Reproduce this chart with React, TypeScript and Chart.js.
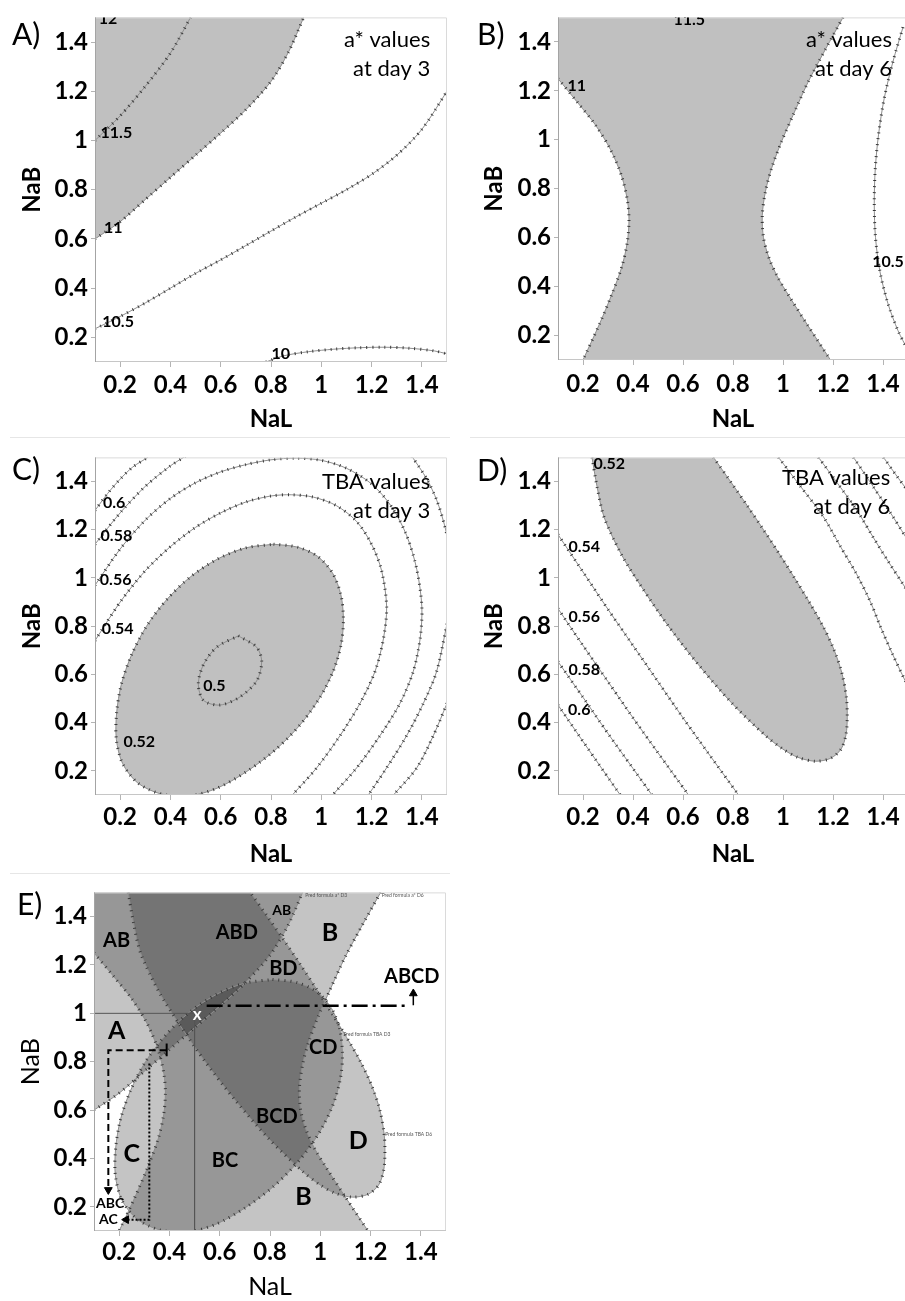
import React, { useEffect, useRef } from "react";
import { Chart, registerables } from "chart.js";

Chart.register(...registerables);
Chart.defaults.font.family = "Lato";

// ---------------- axes ----------------
const X_MIN = 0.1, X_MAX = 1.5, Y_MIN = 0.1, Y_MAX = 1.5;
const TICK_VALUES = [0.2, 0.4, 0.6, 0.8, 1, 1.2, 1.4];
const TICK_LABELS = ["0.2", "0.4", "0.6", "0.8", "1", "1.2", "1.4"];
const X_TITLE = "NaL";
const Y_TITLE = "NaB";
const PANEL_LETTERS = ["A)", "B)", "C)", "D)", "E)"];

// ---------------- panel A : a* values at day 3 ----------------
const A_C115 = [[0.1, 1.0], [0.2, 1.1], [0.3, 1.22], [0.4, 1.355], [0.48, 1.5]];
const A_C11 = [[0.1, 0.6], [0.2, 0.67], [0.3, 0.76], [0.4, 0.85], [0.5, 0.94], [0.6, 1.03], [0.7, 1.125], [0.8, 1.24], [0.87, 1.36], [0.93, 1.5]];
const A_C11_BEYOND_START = [0.0, 0.53];
const A_C11_BEYOND_END = [[0.96, 1.57], [0.0, 1.57]];
const A_C105 = [[0.1, 0.235], [0.2, 0.285], [0.3, 0.34], [0.4, 0.4], [0.5, 0.46], [0.6, 0.515], [0.7, 0.573], [0.8, 0.632], [0.9, 0.69], [1.0, 0.745], [1.1, 0.8], [1.2, 0.862], [1.3, 0.94], [1.4, 1.045], [1.5, 1.2]];
const A_C10 = [[0.78, 0.1], [0.85, 0.125], [0.95, 0.142], [1.05, 0.152], [1.15, 0.158], [1.25, 0.16], [1.35, 0.156], [1.45, 0.145], [1.5, 0.133]];
const A_LABELS: [string, number, number][] = [["12", 0.152, 1.495], ["11.5", 0.185, 1.032], ["11", 0.173, 0.645], ["10.5", 0.192, 0.264], ["10", 0.839, 0.134]];
const A_NOTE: [string, number, number][] = [["a* values", 1.433, 1.409], ["at day 3", 1.433, 1.289]];

// ---------------- panel B : a* values at day 6 ----------------
const B_C11_LEFT = [[0.1, 1.25], [0.18, 1.15], [0.25, 1.06], [0.31, 0.96], [0.355, 0.85], [0.378, 0.75], [0.384, 0.67], [0.377, 0.58], [0.355, 0.48], [0.316, 0.37], [0.265, 0.245], [0.2, 0.1]];
const B_C11_RIGHT = [[1.24, 1.5], [1.17, 1.37], [1.1, 1.235], [1.04, 1.1], [0.993, 0.99], [0.955, 0.885], [0.93, 0.79], [0.917, 0.69], [0.922, 0.6], [0.943, 0.52], [0.978, 0.44], [1.025, 0.36], [1.1, 0.24], [1.19, 0.1]];
const B_C11_BEYOND_TOP = [[1.28, 1.575], [0.05, 1.575]];
const B_C11_BEYOND_LEFT = [0.05, 1.31];
const B_C11_BEYOND_BOTTOM = [[0.169, 0.03], [1.235, 0.03]];
const B_C105 = [[1.48, 1.46], [1.44, 1.32], [1.405, 1.17], [1.382, 1.02], [1.369, 0.88], [1.365, 0.74], [1.37, 0.6], [1.388, 0.46], [1.42, 0.33], [1.46, 0.22], [1.5, 0.14]];
const B_LABELS: [string, number, number][] = [["11.5", 0.625, 1.49], ["11", 0.175, 1.22], ["10.5", 1.42, 0.5]];
const B_NOTE: [string, number, number][] = [["a* values", 1.436, 1.408], ["at day 6", 1.436, 1.288]];

// ---------------- panel C : TBA values at day 3 ----------------
const C_C052 = [[0.81, 1.14], [0.905, 1.128], [0.985, 1.09], [1.045, 1.02], [1.078, 0.93], [1.088, 0.83], [1.08, 0.73], [1.05, 0.62], [0.995, 0.505], [0.915, 0.39], [0.815, 0.285], [0.7, 0.195], [0.585, 0.128], [0.47, 0.095], [0.36, 0.105], [0.27, 0.15], [0.21, 0.23], [0.185, 0.33], [0.186, 0.44], [0.205, 0.56], [0.245, 0.68], [0.305, 0.8], [0.385, 0.91], [0.48, 1.005], [0.59, 1.08], [0.7, 1.125]];
const C_C050 = [[0.67, 0.76], [0.743, 0.713], [0.763, 0.653], [0.743, 0.573], [0.677, 0.507], [0.597, 0.473], [0.531, 0.493], [0.511, 0.56], [0.531, 0.64], [0.584, 0.713]];
const C_C054 = [[0.1, 0.74], [0.2, 0.9], [0.3, 1.03], [0.4, 1.13], [0.5, 1.21], [0.6, 1.27], [0.7, 1.315], [0.8, 1.34], [0.88, 1.345], [0.97, 1.335], [1.06, 1.3], [1.14, 1.235], [1.2, 1.14], [1.24, 1.03], [1.26, 0.88], [1.247, 0.747], [1.214, 0.613], [1.154, 0.48], [1.075, 0.347], [0.982, 0.213], [0.885, 0.1]];
const C_C056 = [[0.1, 0.97], [0.2, 1.12], [0.3, 1.24], [0.4, 1.33], [0.5, 1.395], [0.6, 1.44], [0.7, 1.47], [0.8, 1.49], [0.9, 1.497], [1.0, 1.488], [1.1, 1.455], [1.2, 1.39], [1.28, 1.295], [1.34, 1.175], [1.38, 1.035], [1.4, 0.88], [1.393, 0.747], [1.366, 0.613], [1.313, 0.48], [1.234, 0.347], [1.141, 0.213], [1.045, 0.1]];
const C_C058_UPLEFT = [[0.1, 1.14], [0.2, 1.27], [0.3, 1.38], [0.4, 1.465], [0.46, 1.505]];
const C_C058_UPRIGHT = [[1.36, 1.505], [1.42, 1.41], [1.46, 1.32], [1.49, 1.22], [1.505, 1.15]];
const C_C058_LOWRIGHT = [[1.5, 0.81], [1.459, 0.613], [1.406, 0.48], [1.34, 0.347], [1.26, 0.213], [1.187, 0.1]];
const C_C060_UPLEFT = [[0.1, 1.28], [0.15, 1.35], [0.2, 1.41], [0.25, 1.46], [0.31, 1.5]];
const C_C060_LOWRIGHT = [[1.5, 0.48], [1.446, 0.347], [1.38, 0.213], [1.287, 0.1]];
const C_LABELS: [string, number, number][] = [["0.6", 0.176, 1.313], ["0.58", 0.185, 1.173], ["0.56", 0.182, 0.993], ["0.54", 0.19, 0.787], ["0.5", 0.575, 0.553], ["0.52", 0.276, 0.32]];
const C_NOTE: [string, number, number][] = [["TBA values", 1.433, 1.4], ["at day 3", 1.433, 1.28]];

// ---------------- panel D : TBA values at day 6 ----------------
const D_C052 = [[0.236, 1.5], [0.256, 1.38], [0.285, 1.25], [0.356, 1.093], [0.436, 0.96], [0.542, 0.8], [0.662, 0.64], [0.796, 0.48], [0.929, 0.347], [1.0, 0.29], [1.06, 0.256], [1.129, 0.24], [1.19, 0.252], [1.232, 0.29], [1.252, 0.35], [1.257, 0.42], [1.254, 0.5], [1.237, 0.6], [1.205, 0.7], [1.16, 0.8], [1.105, 0.9], [1.046, 1.0], [0.985, 1.1], [0.922, 1.2], [0.857, 1.3], [0.79, 1.4], [0.722, 1.5]];
const D_C054_LEFT = [[0.1, 1.18], [0.2, 1.025], [0.3, 0.87], [0.4, 0.72], [0.5, 0.57], [0.6, 0.42], [0.7, 0.275], [0.822, 0.1]];
const D_C056_LEFT = [[0.1, 0.873], [0.2, 0.72], [0.3, 0.57], [0.4, 0.42], [0.5, 0.275], [0.622, 0.1]];
const D_C058_LEFT = [[0.1, 0.653], [0.2, 0.505], [0.3, 0.355], [0.4, 0.21], [0.476, 0.1]];
const D_C060_LEFT = [[0.1, 0.473], [0.2, 0.322], [0.349, 0.1]];
const D_C054_RIGHT = [[0.982, 1.5], [1.07, 1.38], [1.162, 1.253], [1.23, 1.13], [1.296, 1.013], [1.35, 0.9], [1.389, 0.8], [1.44, 0.68], [1.489, 0.573], [1.5, 0.55]];
const D_C056_RIGHT = [[1.142, 1.5], [1.22, 1.39], [1.296, 1.28], [1.36, 1.17], [1.42, 1.07], [1.489, 0.96], [1.5, 0.94]];
const D_C058_RIGHT = [[1.282, 1.5], [1.36, 1.38], [1.43, 1.27], [1.489, 1.173], [1.5, 1.155]];
const D_C060_RIGHT = [[1.402, 1.5], [1.45, 1.43], [1.5, 1.36]];
const D_LABELS: [string, number, number][] = [["0.52", 0.305, 1.473], ["0.54", 0.205, 1.13], ["0.56", 0.205, 0.84], ["0.58", 0.205, 0.62], ["0.6", 0.185, 0.453]];
const D_NOTE: [string, number, number][] = [["TBA values", 1.429, 1.413], ["at day 6", 1.429, 1.293]];

// ---------------- panel E : overlay ----------------
const E_CROSS_H = [[0.1, 1.0], [0.5, 1.0]];
const E_CROSS_V = [[0.5, 1.0], [0.5, 0.1]];
const E_DASH = [[0.389, 0.847], [0.157, 0.847], [0.157, 0.27]];
const E_DASH_MARK = [[0.389, 0.823], [0.389, 0.875]];
const E_DOT = [[0.32, 0.793], [0.32, 0.147], [0.228, 0.147]];
const E_DASHDOT = [[0.548, 1.031], [1.352, 1.031]];
const E_UP = [[1.37, 1.033], [1.37, 1.082]];
const E_LABELS_BIG: [string, number, number][] = [["B", 1.039, 1.333], ["A", 0.19, 0.927], ["C", 0.25, 0.42], ["D", 1.151, 0.473], ["B", 0.933, 0.24]];
const E_LABELS_MID: [string, number, number][] = [["AB", 0.19, 1.3], ["ABD", 0.668, 1.333], ["BD", 0.853, 1.187], ["ABCD", 1.364, 1.153], ["CD", 1.012, 0.86], ["BCD", 0.827, 0.573], ["BC", 0.621, 0.393]];
const E_LABELS_SMALL: [string, number, number][] = [["AB", 0.847, 1.427], ["ABC", 0.164, 0.213], ["AC", 0.157, 0.147]];
const E_OPTIMUM: [string, number, number][] = [["x", 0.51, 0.995]];
const E_PRED: [string, number, number][] = [["Pred formula a* D3", 0.94, 1.487], ["Pred formula a* D6", 1.244, 1.487], ["Pred formula TBA D3", 1.092, 0.913], ["Pred formula TBA D6", 1.258, 0.5]];

// ---------------- helpers ----------------
type Annot = { text: string; x: number; y: number; font: string; color: string; align: CanvasTextAlign };
const pts = (a: number[][]) => a.map(([x, y]) => ({ x, y }));
const closed = (a: number[][]) => [...a, a[0]];
const A_REGION = [A_C11_BEYOND_START, ...A_C11, ...A_C11_BEYOND_END];
const B_REGION = [B_C11_BEYOND_LEFT, ...B_C11_LEFT, ...B_C11_BEYOND_BOTTOM, ...[...B_C11_RIGHT].reverse(), ...B_C11_BEYOND_TOP];

const LINE_COLOR = "#8e8e8e";
const TICK_COLOR = "#3a3a3a";
const SHADE = "#c0c0c0";
const OVERLAY = "rgba(0,0,0,0.23)";

const contour = (a: number[][]) => [
  { data: pts(a), borderColor: LINE_COLOR, borderWidth: 1, pointRadius: 0, tension: 0.3, fill: false, order: 5 },
  { data: pts(a), borderColor: TICK_COLOR, borderWidth: 3, borderDash: [1, 5], pointRadius: 0, tension: 0.3, fill: false, order: 4 },
];
const region = (a: number[][], color: string) => ({
  data: pts(a), borderWidth: 0, borderColor: "rgba(0,0,0,0)", backgroundColor: color, pointRadius: 0, tension: 0.3, fill: "shape", order: 10,
});
const guide = (a: number[][], dash: number[], width: number, color = "#000", extra: any = {}) => ({
  data: pts(a), borderColor: color, borderWidth: width, borderDash: dash, pointRadius: 0, tension: 0, fill: false, order: 1, ...extra,
});
const arrow = (a: number[][], dash: number[], width: number, rotation: number) =>
  guide(a, dash, width, "#000", {
    pointRadius: a.map((_, i) => (i === a.length - 1 ? 4.5 : 0)),
    pointStyle: "triangle", pointRotation: rotation, pointBackgroundColor: "#000", pointBorderColor: "#000", pointBorderWidth: 1,
  });
const lab = (arr: [string, number, number][], font: string, align: CanvasTextAlign = "center", color = "#000"): Annot[] =>
  arr.map(([text, x, y]) => ({ text, x, y, font, color, align }));

const CONTOUR_FONT = "bold 16px Lato";
const NOTE_FONT = "22px Lato";

const overlayPlugin = (annots: Annot[]) => ({
  id: "overlay",
  afterDatasetsDraw(chart: any) {
    const { ctx, chartArea: a, scales } = chart;
    const xs = scales.x, ys = scales.y;
    ctx.save();
    ctx.lineWidth = 1;
    ctx.strokeStyle = "#dadada";
    ctx.beginPath();
    ctx.moveTo(a.left, a.top + 0.5); ctx.lineTo(a.right - 0.5, a.top + 0.5); ctx.lineTo(a.right - 0.5, a.bottom);
    ctx.stroke();
    ctx.strokeStyle = "#c6c6c6";
    ctx.beginPath(); ctx.moveTo(a.left, a.bottom - 0.5); ctx.lineTo(a.right, a.bottom - 0.5); ctx.stroke();
    ctx.strokeStyle = "#a4a4a4";
    ctx.beginPath(); ctx.moveTo(a.left + 0.5, a.top); ctx.lineTo(a.left + 0.5, a.bottom); ctx.stroke();
    ctx.beginPath();
    ctx.rect(a.left, a.top, a.right - a.left, a.bottom - a.top);
    ctx.clip();
    ctx.textBaseline = "middle";
    for (const t of annots) {
      ctx.font = t.font;
      ctx.fillStyle = t.color;
      ctx.textAlign = t.align;
      ctx.fillText(t.text, xs.getPixelForValue(t.x), ys.getPixelForValue(t.y));
    }
    ctx.restore();
  },
});

type PanelSpec = {
  left: number; top: number; w: number; h: number;
  area: { l: number; t: number; r: number; b: number };
  titleFont: any; yTitlePad: number; xTitlePad: number; xTickPad: number;
  datasets: any[]; annots: Annot[];
  letter: string; letterPos: [number, number];
};

function buildConfig(s: PanelSpec): any {
  const yWidth = s.area.l - s.left;
  const xHeight = s.top + s.h - s.area.b;
  const tickFont = { family: "Lato", weight: "bold", size: 24 };
  const common = {
    afterBuildTicks: (sc: any) => { sc.ticks = TICK_VALUES.map((v) => ({ value: v })); },
    ticks: { callback: (_v: any, i: number) => TICK_LABELS[i], font: tickFont, color: "#000", autoSkip: false, maxRotation: 0 },
    border: { display: false },
  };
  return {
    type: "line",
    data: { datasets: s.datasets },
    options: {
      responsive: false, animation: false, devicePixelRatio: 1, events: [],
      layout: { padding: { left: 0, top: s.area.t - s.top, right: s.left + s.w - s.area.r, bottom: 0 } },
      plugins: { legend: { display: false }, tooltip: { enabled: false } },
      scales: {
        x: {
          type: "linear", min: X_MIN, max: X_MAX, ...common,
          ticks: { ...common.ticks, padding: s.xTickPad },
          afterFit: (sc: any) => { sc.height = xHeight; },
          grid: { display: true, drawOnChartArea: false, drawTicks: true, tickLength: 5, color: "#b4b4b4" },
          title: { display: true, text: X_TITLE, font: s.titleFont, color: "#000", padding: { top: 0, bottom: s.xTitlePad } },
        },
        y: {
          type: "linear", min: Y_MIN, max: Y_MAX, ...common,
          ticks: { ...common.ticks, padding: 3 },
          afterFit: (sc: any) => { sc.width = yWidth; },
          grid: { display: true, drawOnChartArea: false, drawTicks: true, tickLength: 4, color: "#b4b4b4" },
          title: { display: true, text: Y_TITLE, font: s.titleFont, color: "#000", padding: { top: s.yTitlePad, bottom: 0 } },
        },
      },
    },
    plugins: [overlayPlugin(s.annots)],
  };
}

function Panel({ spec }: { spec: PanelSpec }) {
  const ref = useRef<HTMLCanvasElement>(null);
  useEffect(() => {
    const chart = new Chart(ref.current as HTMLCanvasElement, buildConfig(spec));
    return () => chart.destroy();
  }, []);
  return (
    <>
      <canvas ref={ref} width={spec.w} height={spec.h}
        style={{ position: "absolute", left: spec.left, top: spec.top, width: spec.w, height: spec.h }} />
      <div style={{ position: "absolute", left: spec.letterPos[0], top: spec.letterPos[1], font: "30px Lato", lineHeight: "30px", color: "#000", whiteSpace: "nowrap" }}>
        {spec.letter}
      </div>
    </>
  );
}

const BOLD_TITLE = { family: "Lato", weight: "bold", size: 24 };
const PLAIN_TITLE = { family: "Lato", weight: "normal", size: 25 };

const SPECS: PanelSpec[] = [
  {
    left: 0, top: 0, w: 455, h: 440, area: { l: 95, t: 10, r: 447, b: 362 },
    titleFont: BOLD_TITLE, yTitlePad: 18, xTitlePad: 6, xTickPad: 4,
    datasets: [region(A_REGION, SHADE), ...contour(A_C115), ...contour(A_C11), ...contour(A_C105), ...contour(A_C10)],
    annots: [...lab(A_LABELS, CONTOUR_FONT), ...lab(A_NOTE, NOTE_FONT, "right")],
    letter: PANEL_LETTERS[0], letterPos: [12, 18],
  },
  {
    left: 455, top: 0, w: 460, h: 440, area: { l: 558, t: 10, r: 908, b: 360 },
    titleFont: BOLD_TITLE, yTitlePad: 25, xTitlePad: 6, xTickPad: 5,
    datasets: [region(B_REGION, SHADE), ...contour(B_C11_LEFT), ...contour(B_C11_RIGHT), ...contour(B_C105)],
    annots: [...lab(B_LABELS, CONTOUR_FONT), ...lab(B_NOTE, NOTE_FONT, "right")],
    letter: PANEL_LETTERS[1], letterPos: [477, 18],
  },
  {
    left: 0, top: 440, w: 455, h: 435, area: { l: 95, t: 445, r: 447, b: 795 },
    titleFont: BOLD_TITLE, yTitlePad: 18, xTitlePad: 6, xTickPad: 3,
    datasets: [region(closed(C_C052), SHADE), ...contour(closed(C_C052)), ...contour(closed(C_C050)), ...contour(C_C054), ...contour(C_C056),
      ...contour(C_C058_UPLEFT), ...contour(C_C058_UPRIGHT), ...contour(C_C058_LOWRIGHT), ...contour(C_C060_UPLEFT), ...contour(C_C060_LOWRIGHT)],
    annots: [...lab(C_LABELS, CONTOUR_FONT), ...lab(C_NOTE, NOTE_FONT, "right")],
    letter: PANEL_LETTERS[2], letterPos: [12, 453],
  },
  {
    left: 455, top: 440, w: 460, h: 435, area: { l: 558, t: 445, r: 908, b: 795 },
    titleFont: BOLD_TITLE, yTitlePad: 25, xTitlePad: 6, xTickPad: 3,
    datasets: [region(D_C052, SHADE), ...contour(D_C052), ...contour(D_C054_LEFT), ...contour(D_C056_LEFT), ...contour(D_C058_LEFT), ...contour(D_C060_LEFT),
      ...contour(D_C054_RIGHT), ...contour(D_C056_RIGHT), ...contour(D_C058_RIGHT), ...contour(D_C060_RIGHT)],
    annots: [...lab(D_LABELS, CONTOUR_FONT), ...lab(D_NOTE, NOTE_FONT, "right")],
    letter: PANEL_LETTERS[3], letterPos: [477, 454],
  },
  {
    left: 0, top: 875, w: 455, h: 430, area: { l: 94, t: 880, r: 446, b: 1231 },
    titleFont: PLAIN_TITLE, yTitlePad: 16, xTitlePad: 3, xTickPad: 2,
    datasets: [
      region(A_REGION, OVERLAY), region(B_REGION, OVERLAY), region(closed(C_C052), OVERLAY), region(D_C052, OVERLAY),
      ...contour(A_C11), ...contour(B_C11_LEFT), ...contour(B_C11_RIGHT), ...contour(closed(C_C052)), ...contour(D_C052),
      guide(E_CROSS_H, [], 1, "#555"), guide(E_CROSS_V, [], 1, "#555"),
      arrow(E_DASH, [7, 4], 2, 180), guide(E_DASH_MARK, [], 2),
      arrow(E_DOT, [2, 2], 2, 270),
      guide(E_DASHDOT, [16, 5, 3, 5], 2.5),
      arrow(E_UP, [], 1.5, 0),
    ],
    annots: [
      ...lab(E_LABELS_BIG, "bold 25px Lato"), ...lab(E_LABELS_MID, "bold 20px Lato"), ...lab(E_LABELS_SMALL, "bold 14px Lato"),
      ...lab(E_OPTIMUM, "bold 17px Lato", "center", "#fff"), ...lab(E_PRED, "5px Lato", "left", "#555"),
    ],
    letter: PANEL_LETTERS[4], letterPos: [17, 888],
  },
];

export default function App() {
  return (
    <div style={{ position: "absolute", left: 0, top: 0, width: 905, height: 1301, overflow: "hidden", background: "#fff" }}>
      {SPECS.map((s, i) => <Panel key={i} spec={s} />)}
      <div style={{ position: "absolute", left: 10, top: 437, width: 440, height: 1, background: "#e6e6e6" }} />
      <div style={{ position: "absolute", left: 470, top: 437, width: 435, height: 1, background: "#e6e6e6" }} />
      <div style={{ position: "absolute", left: 10, top: 873, width: 440, height: 1, background: "#e6e6e6" }} />
    </div>
  );
}
